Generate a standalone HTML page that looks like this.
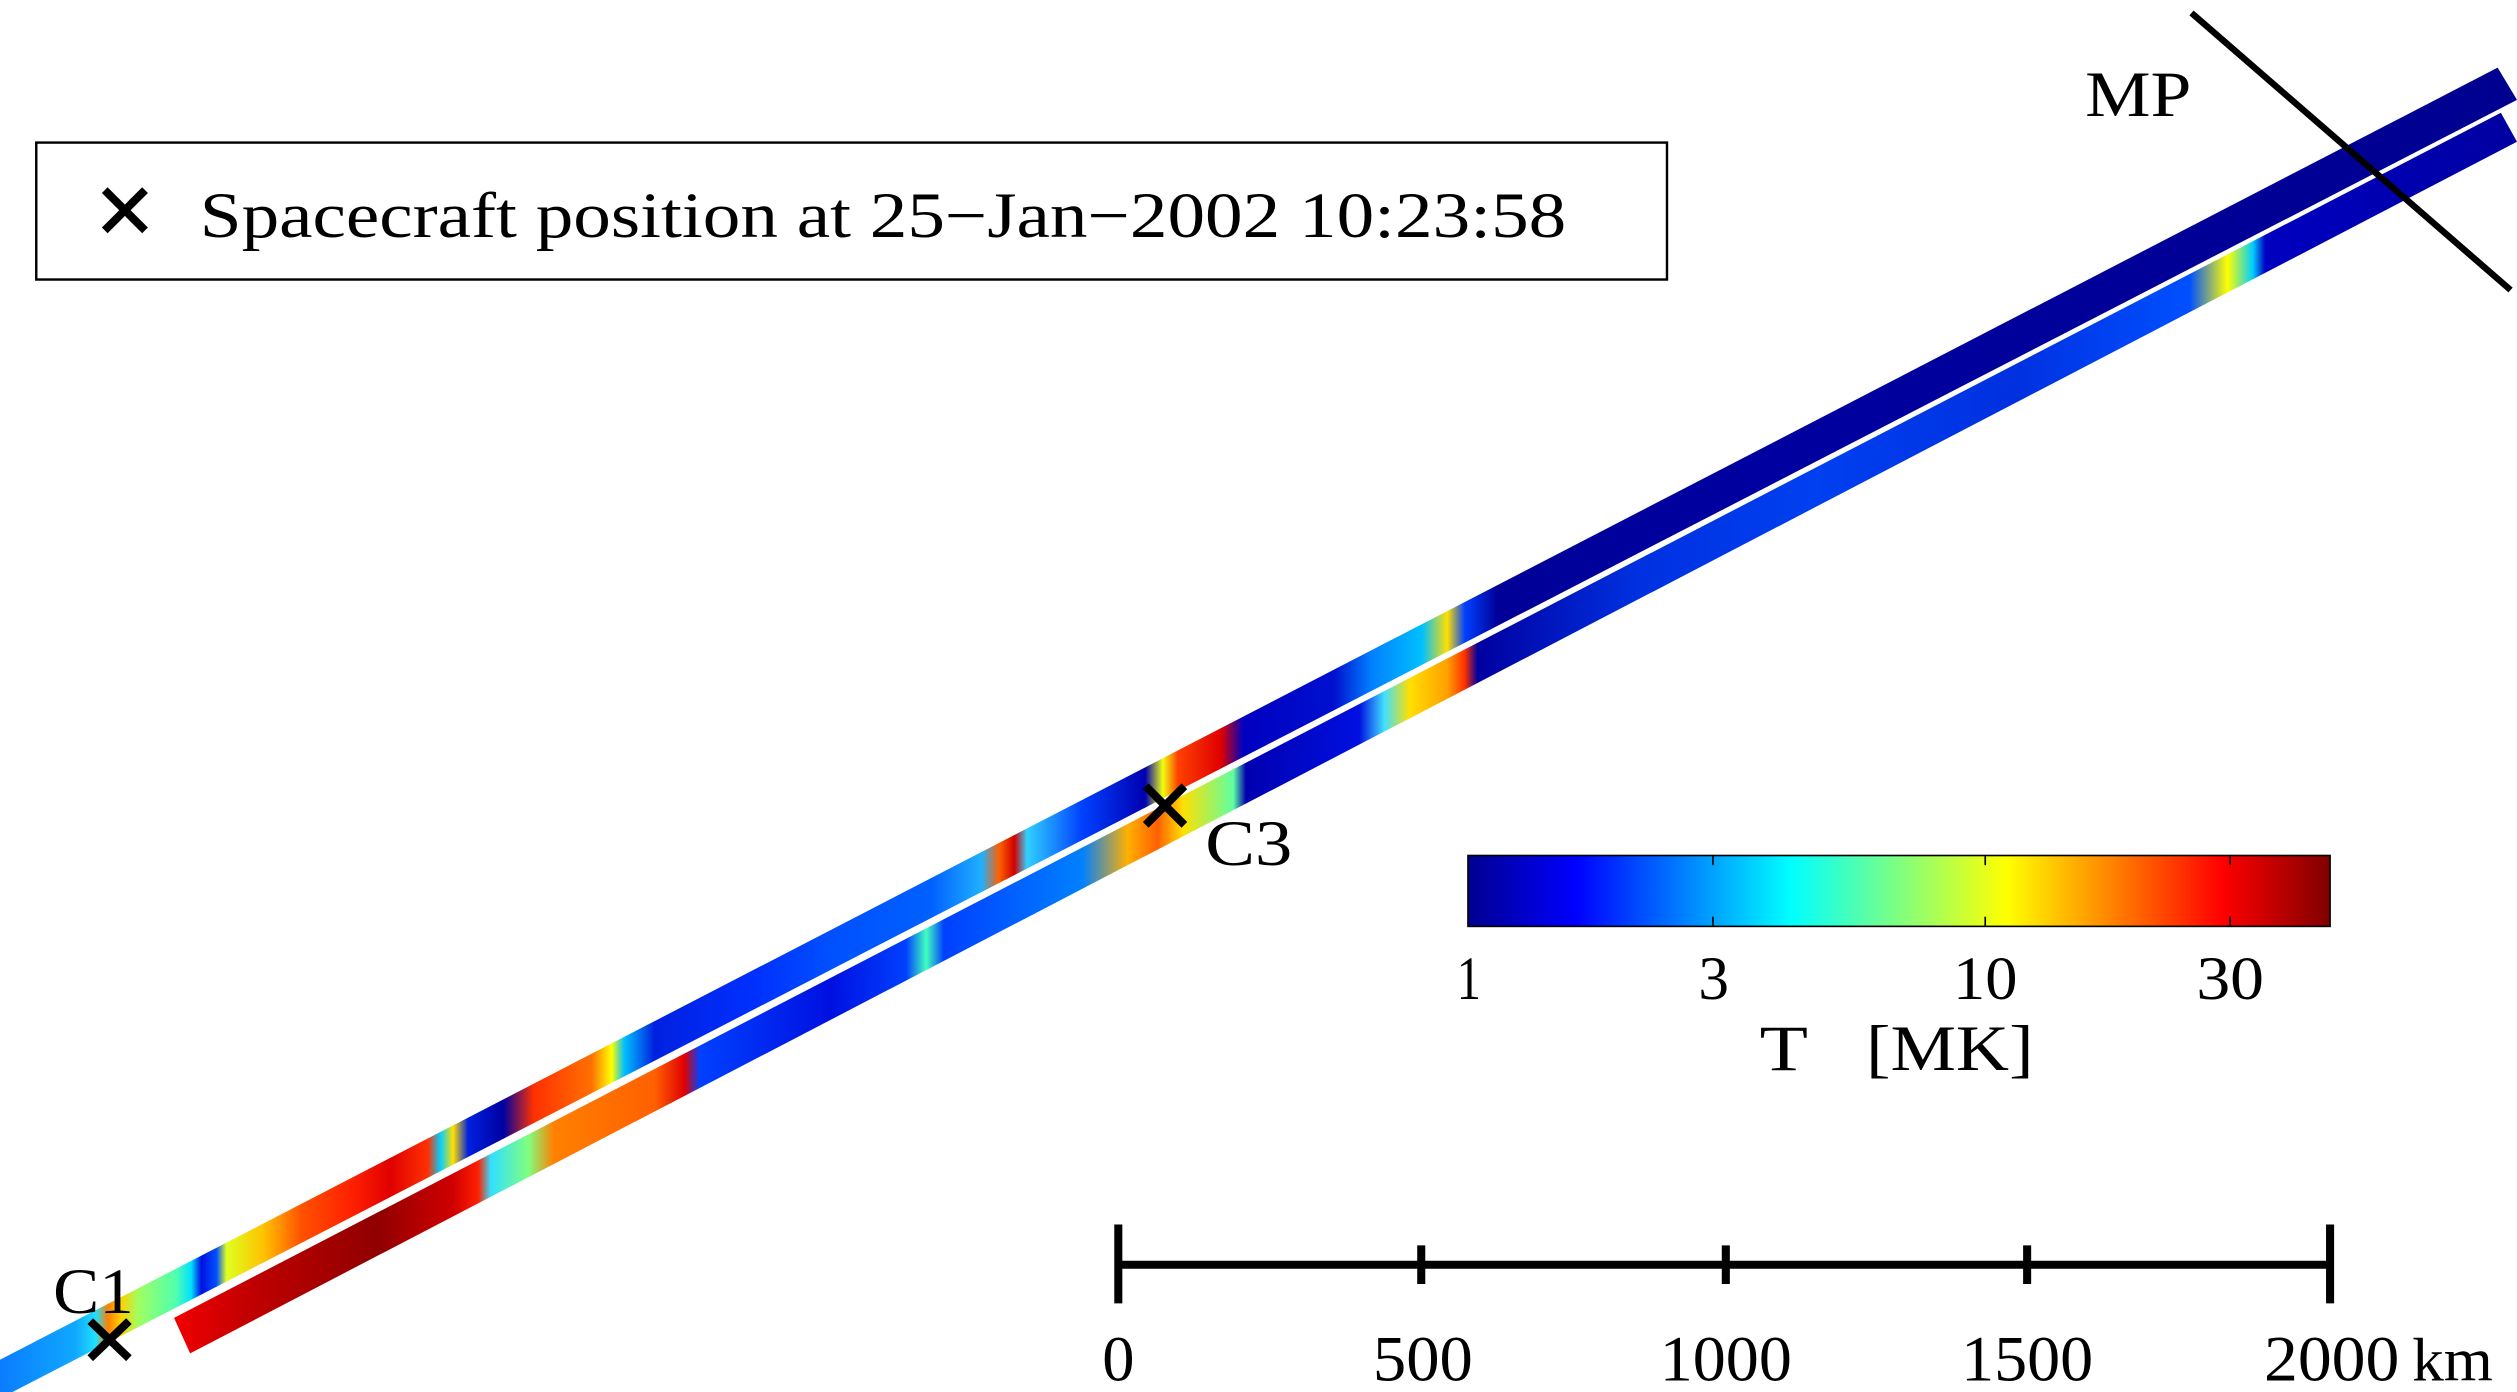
<!DOCTYPE html>
<html><head><meta charset="utf-8"><style>
html,body{margin:0;padding:0;background:#fff;}
svg{display:block;}
text{font-family:"Liberation Serif","Times New Roman",serif;fill:#000;}
</style></head><body>
<svg width="2517" height="1392" viewBox="0 0 1562 864" preserveAspectRatio="none" xmlns="http://www.w3.org/2000/svg" font-family="Liberation Serif, serif">
<defs>
<linearGradient id="gA" gradientUnits="userSpaceOnUse" x1="0" y1="0" x2="1562" y2="0">
<stop offset="0" stop-color="#0a7cff"/>
<stop offset="0.03" stop-color="#10a8ff"/>
<stop offset="0.038" stop-color="#20e0ff"/>
<stop offset="0.043" stop-color="#ff8000"/>
<stop offset="0.048" stop-color="#ffd000"/>
<stop offset="0.055" stop-color="#a0ff60"/>
<stop offset="0.07" stop-color="#50ffb0"/>
<stop offset="0.076" stop-color="#00e0ff"/>
<stop offset="0.08" stop-color="#0010e0"/>
<stop offset="0.086" stop-color="#0050ff"/>
<stop offset="0.09" stop-color="#e0ff20"/>
<stop offset="0.105" stop-color="#ffc000"/>
<stop offset="0.12" stop-color="#ff5000"/>
<stop offset="0.14" stop-color="#ff2000"/>
<stop offset="0.155" stop-color="#e00000"/>
<stop offset="0.17" stop-color="#ff3000"/>
<stop offset="0.175" stop-color="#00d0ff"/>
<stop offset="0.18" stop-color="#ffe000"/>
<stop offset="0.186" stop-color="#0020e0"/>
<stop offset="0.2" stop-color="#0000a0"/>
<stop offset="0.212" stop-color="#ff3000"/>
<stop offset="0.235" stop-color="#ff7000"/>
<stop offset="0.243" stop-color="#ffff00"/>
<stop offset="0.248" stop-color="#00c0ff"/>
<stop offset="0.26" stop-color="#0020e0"/>
<stop offset="0.3" stop-color="#0030ff"/>
<stop offset="0.33" stop-color="#0050ff"/>
<stop offset="0.37" stop-color="#0060ff"/>
<stop offset="0.39" stop-color="#20b0ff"/>
<stop offset="0.397" stop-color="#ff6000"/>
<stop offset="0.403" stop-color="#d00000"/>
<stop offset="0.408" stop-color="#30d0ff"/>
<stop offset="0.43" stop-color="#0040ff"/>
<stop offset="0.455" stop-color="#0000b0"/>
<stop offset="0.462" stop-color="#f0ff10"/>
<stop offset="0.468" stop-color="#ff4000"/>
<stop offset="0.485" stop-color="#e00000"/>
<stop offset="0.494" stop-color="#0000c0"/>
<stop offset="0.53" stop-color="#0010d0"/>
<stop offset="0.545" stop-color="#0080ff"/>
<stop offset="0.565" stop-color="#00c0ff"/>
<stop offset="0.575" stop-color="#ffe000"/>
<stop offset="0.582" stop-color="#0040ff"/>
<stop offset="0.595" stop-color="#000098"/>
<stop offset="0.7" stop-color="#0000a0"/>
<stop offset="1" stop-color="#000090"/>
</linearGradient>
<linearGradient id="gB" gradientUnits="userSpaceOnUse" x1="0" y1="0" x2="1562" y2="0">
<stop offset="0.07" stop-color="#f00000"/>
<stop offset="0.1" stop-color="#c00000"/>
<stop offset="0.15" stop-color="#900000"/>
<stop offset="0.18" stop-color="#d00000"/>
<stop offset="0.19" stop-color="#ff2000"/>
<stop offset="0.195" stop-color="#30e0ff"/>
<stop offset="0.21" stop-color="#80ff80"/>
<stop offset="0.22" stop-color="#ff8000"/>
<stop offset="0.26" stop-color="#ff6000"/>
<stop offset="0.272" stop-color="#e00000"/>
<stop offset="0.278" stop-color="#0040ff"/>
<stop offset="0.33" stop-color="#0010e0"/>
<stop offset="0.36" stop-color="#0040ff"/>
<stop offset="0.368" stop-color="#40ffc0"/>
<stop offset="0.375" stop-color="#0040ff"/>
<stop offset="0.43" stop-color="#0080ff"/>
<stop offset="0.448" stop-color="#ffb000"/>
<stop offset="0.46" stop-color="#ff6000"/>
<stop offset="0.47" stop-color="#ffe000"/>
<stop offset="0.49" stop-color="#60ffa0"/>
<stop offset="0.495" stop-color="#0000b0"/>
<stop offset="0.54" stop-color="#0010e0"/>
<stop offset="0.55" stop-color="#40e0ff"/>
<stop offset="0.56" stop-color="#ffe000"/>
<stop offset="0.575" stop-color="#ffa000"/>
<stop offset="0.582" stop-color="#ff3000"/>
<stop offset="0.587" stop-color="#0000a0"/>
<stop offset="0.65" stop-color="#0030e0"/>
<stop offset="0.72" stop-color="#0040f0"/>
<stop offset="0.8" stop-color="#0030e0"/>
<stop offset="0.87" stop-color="#0050ff"/>
<stop offset="0.885" stop-color="#ffff00"/>
<stop offset="0.895" stop-color="#00d0ff"/>
<stop offset="0.9" stop-color="#0000c0"/>
<stop offset="1" stop-color="#0000a0"/>
</linearGradient>
<linearGradient id="jet" x1="0" y1="0" x2="1" y2="0">
<stop offset="0" stop-color="#00008f"/>
<stop offset="0.125" stop-color="#0000ff"/>
<stop offset="0.375" stop-color="#00ffff"/>
<stop offset="0.625" stop-color="#ffff00"/>
<stop offset="0.875" stop-color="#ff0000"/>
<stop offset="1" stop-color="#800000"/>
</linearGradient>
</defs>

<polygon points="0,844 1550,42 1562,62 0,868" fill="url(#gA)"/>
<polygon points="108,818 1552,70 1562,88 118,840" fill="url(#gB)"/>

<line x1="1360" y1="8" x2="1558" y2="180" stroke="#000" stroke-width="4"/>
<text x="1294" y="72" font-size="40" textLength="66" lengthAdjust="spacingAndGlyphs">MP</text>

<rect x="22.5" y="88.5" width="1012" height="85" fill="#fff" stroke="#000" stroke-width="1.5"/>
<g stroke="#000" stroke-width="5"><line x1="65" y1="118" x2="90" y2="143"/><line x1="90" y1="118" x2="65" y2="143"/></g>
<text x="124" y="147" font-size="40" textLength="848" lengthAdjust="spacingAndGlyphs">Spacecraft position at 25−Jan−2002 10:23:58</text>

<g stroke="#000" stroke-width="5">
<line x1="56" y1="820" x2="80" y2="843"/><line x1="80" y1="820" x2="56" y2="843"/>
<line x1="711" y1="488" x2="735" y2="512"/><line x1="735" y1="488" x2="711" y2="512"/>
</g>
<text x="33" y="815" font-size="40" textLength="50" lengthAdjust="spacingAndGlyphs">C1</text>
<text x="748" y="537" font-size="40" textLength="54" lengthAdjust="spacingAndGlyphs">C3</text>

<rect x="911" y="531" width="535" height="44" fill="url(#jet)" stroke="#000" stroke-width="1"/>
<g stroke="#000" stroke-width="1">
<line x1="1063" y1="531" x2="1063" y2="537"/><line x1="1063" y1="575" x2="1063" y2="569"/>
<line x1="1232" y1="531" x2="1232" y2="537"/><line x1="1232" y1="575" x2="1232" y2="569"/>
<line x1="1384" y1="531" x2="1384" y2="537"/><line x1="1384" y1="575" x2="1384" y2="569"/>
</g>
<text x="904" y="620" font-size="38" textLength="15" lengthAdjust="spacingAndGlyphs">1</text>
<text x="1054" y="620" font-size="38" textLength="19" lengthAdjust="spacingAndGlyphs">3</text>
<text x="1212" y="620" font-size="38" textLength="40" lengthAdjust="spacingAndGlyphs">10</text>
<text x="1363" y="620" font-size="38" textLength="42" lengthAdjust="spacingAndGlyphs">30</text>
<text x="1092" y="664" font-size="40" textLength="30" lengthAdjust="spacingAndGlyphs">T</text>
<text x="1158" y="664" font-size="40" textLength="104" lengthAdjust="spacingAndGlyphs">[MK]</text>

<g stroke="#000" stroke-width="5">
<line x1="694" y1="785" x2="1446" y2="785"/>
<line x1="694" y1="760" x2="694" y2="809"/>
<line x1="1446" y1="760" x2="1446" y2="809"/>
<line x1="882" y1="773" x2="882" y2="797"/>
<line x1="1071" y1="773" x2="1071" y2="797"/>
<line x1="1258" y1="773" x2="1258" y2="797"/>
</g>
<text x="684" y="857" font-size="40" textLength="20" lengthAdjust="spacingAndGlyphs">0</text>
<text x="852" y="857" font-size="40" textLength="62" lengthAdjust="spacingAndGlyphs">500</text>
<text x="1030" y="857" font-size="40" textLength="82" lengthAdjust="spacingAndGlyphs">1000</text>
<text x="1217" y="857" font-size="40" textLength="82" lengthAdjust="spacingAndGlyphs">1500</text>
<text x="1405" y="857" font-size="40" textLength="84" lengthAdjust="spacingAndGlyphs">2000</text>
<text x="1497" y="857" font-size="38" textLength="50" lengthAdjust="spacingAndGlyphs">km</text>
</svg>
</body></html>
